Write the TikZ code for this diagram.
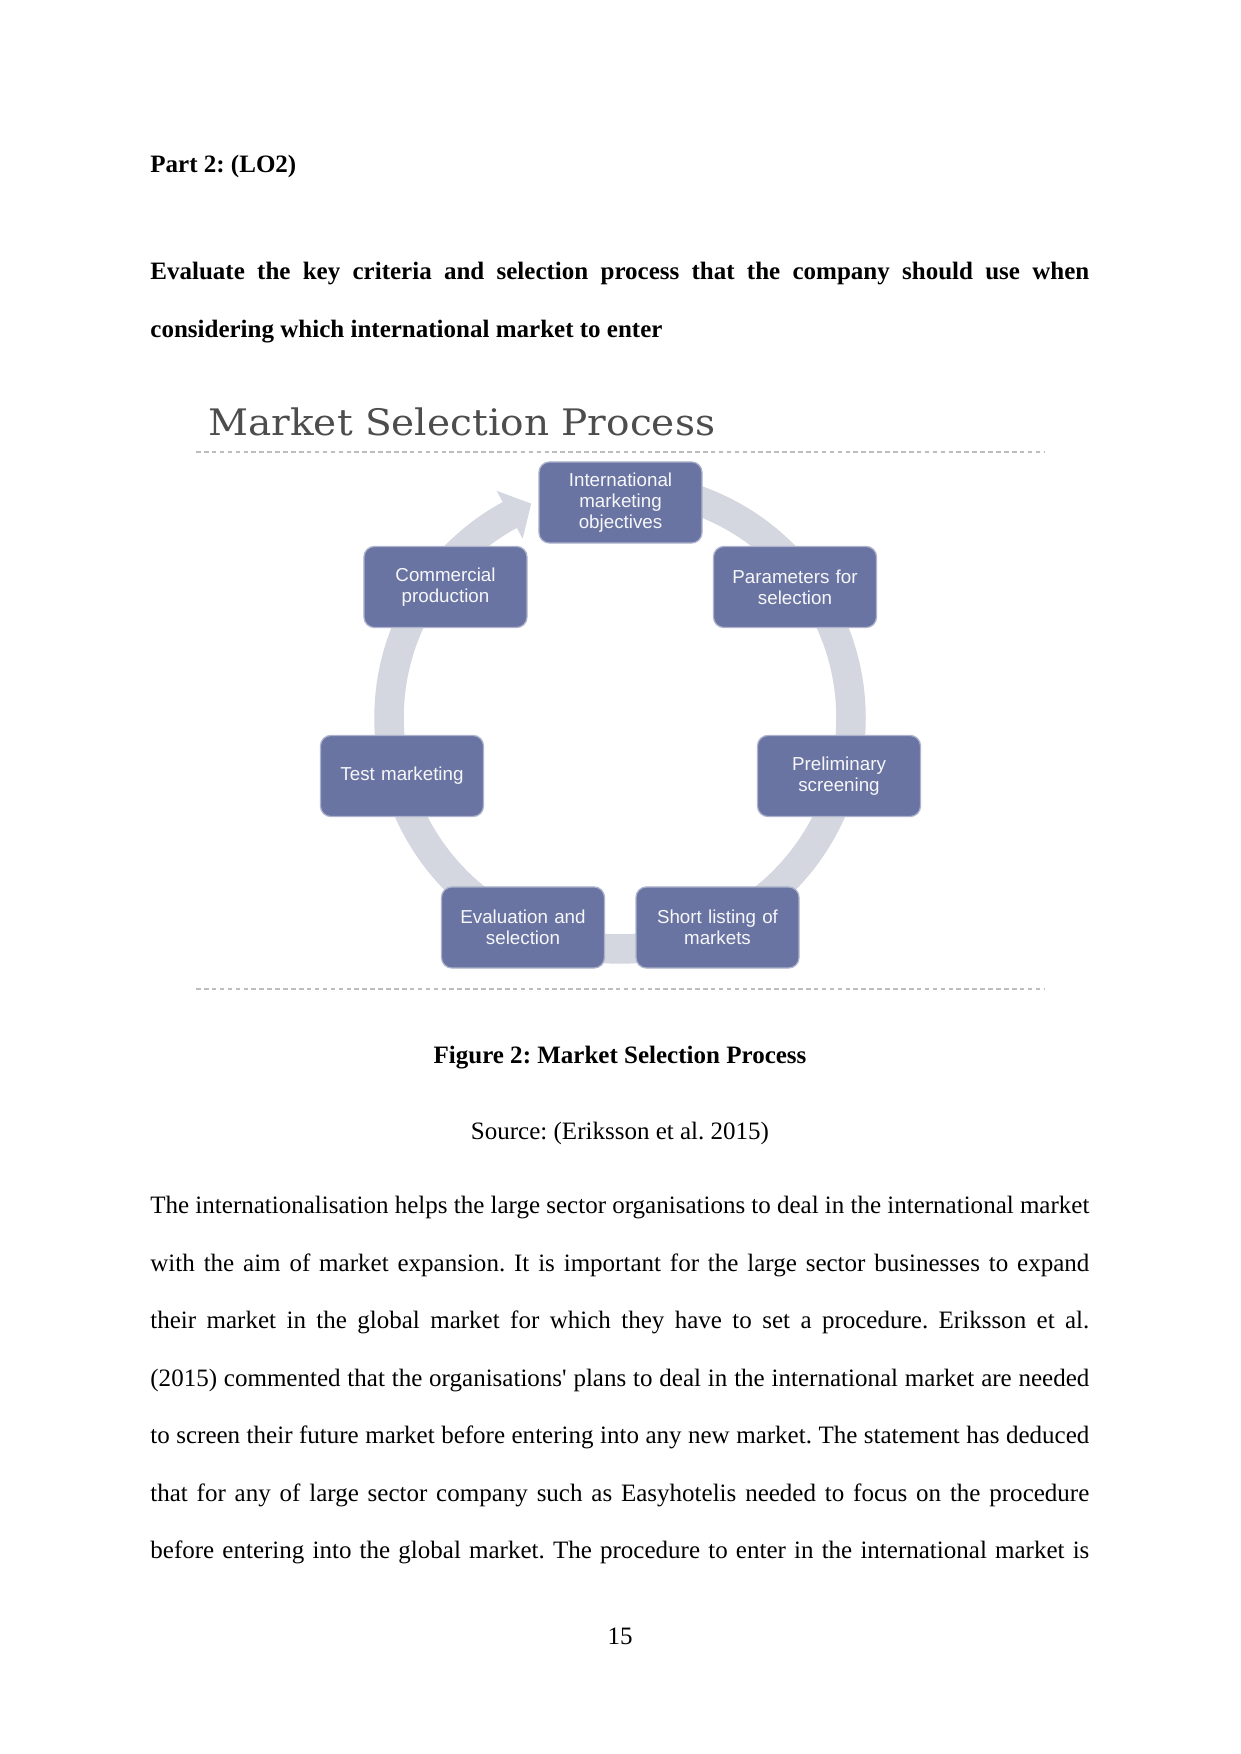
\documentclass[tikz,border=0pt]{standalone}
\usepackage{fontspec}
\setmainfont{Liberation Serif}
\newfontfamily\boxfont{Liberation Sans}
\newfontfamily\titlefont{DejaVu Serif}
\usetikzlibrary{calc}
\definecolor{boxblue}{HTML}{6A74A2}
\definecolor{ringgray}{HTML}{D4D7DF}
\definecolor{titlegray}{HTML}{4D4D4D}
\definecolor{dashgray}{HTML}{BDBDBD}
\newcommand{\straightquote}{{\addfontfeature{Ligatures=TeXOff}'}}
\begin{document}
\frenchspacing
\begin{tikzpicture}[x=0.4797pt,y=0.4797pt,
  stepbox/.style={rectangle, rounded corners=5pt, fill=boxblue, draw=boxblue!55!white,
    line width=0.6pt, minimum width=78.2pt, minimum height=38.9pt, text width=74pt,
    align=center, inner sep=0pt, text=white!94!boxblue,
    font=\boxfont\fontsize{9}{10.2}\selectfont},
  bodyline/.style={anchor=base west, inner sep=0pt, font=\fontsize{12}{14}\selectfont\frenchspacing},
  boldline/.style={anchor=base west, inner sep=0pt, font=\bfseries\fontsize{12}{14}\selectfont\frenchspacing},
  centerline/.style={anchor=base, inner sep=0pt, font=\fontsize{12}{14}\selectfont\frenchspacing},
  dashrule/.style={dashgray, line width=0.7pt, dash pattern=on 2.2pt off 1.6pt}]
\fill[white] (0,0) rectangle (1241,1754);
\useasboundingbox (0,0) rectangle (1241,1754);

% headings
\node[boldline] (part) at (150,1581) {Part 2: (LO2)};
\node[boldline] (q1) at (150,1474) {\makebox[450.4pt][s]{Evaluate the key criteria and selection process that the company should use when}};
\node[boldline] (q2) at (150,1416.5) {considering which international market to enter};

% diagram
\node[anchor=base west, inner sep=0pt, text=titlegray, font=\titlefont\fontsize{17.5}{20}\selectfont] (title) at (208,1318) {\scalebox{1.07}[1]{Market Selection Process}};
\coordinate (d1a) at (196,1302);
\coordinate (d1b) at (1044,1302);
\coordinate (d2a) at (196,765);
\coordinate (d2b) at (1044,765);
\draw[dashrule] (d1a) -- (d1b);
\draw[dashrule] (d2a) -- (d2b);

\coordinate (C) at (620,1036);
\draw[ringgray, line width=14.15pt] ($(C)+(90:110.81pt)$) arc[start angle=90, end angle=-242, radius=110.81pt];
\fill[ringgray] ($(C)+(118.5:124.0pt)$) -- ($(C)+(112.5:111.3pt)$) -- ($(C)+(118.5:97.9pt)$) -- cycle;

\node[stepbox] (imo) at (620.5,1251.5) {International\\marketing\\objectives};
\node[stepbox] (pfs) at (795,1167) {Parameters for\\selection};
\node[stepbox] (ps)  at (839,978) {Preliminary\\screening};
\node[stepbox] (slm) at (717.5,826.5) {Short listing of\\markets};
\node[stepbox] (eas) at (523,826.5) {Evaluation and\\selection};
\node[stepbox] (tm)  at (402,978) {Test marketing};
\node[stepbox] (cp)  at (445.5,1167) {Commercial\\production};

% caption
\node[centerline, font=\bfseries\fontsize{12}{14}\selectfont\frenchspacing] (cap) at (620,690) {Figure 2: Market Selection Process};
\node[centerline] (src) at (620,614) {Source: (Eriksson et al. 2015)};

% body
\node[bodyline] (b1) at (150,540) {\makebox[450.4pt][s]{The internationalisation helps the large sector organisations to deal in the international market}};
\node[bodyline] (b2) at (150,482.5) {\makebox[450.4pt][s]{with the aim of market expansion. It is important for the large sector businesses to expand}};
\node[bodyline] (b3) at (150,425) {\makebox[450.4pt][s]{their market in the global market for which they have to set a procedure. Eriksson et al.}};
\node[bodyline] (b4) at (150,367.5) {\makebox[450.4pt][s]{(2015) commented that the organisations\straightquote{} plans to deal in the international market are needed}};
\node[bodyline] (b5) at (150,310) {\makebox[450.4pt][s]{to screen their future market before entering into any new market. The statement has deduced}};
\node[bodyline] (b6) at (150,252.5) {\makebox[450.4pt][s]{that for any of large sector company such as Easyhotelis needed to focus on the procedure}};
\node[bodyline] (b7) at (150,195) {\makebox[450.4pt][s]{before entering into the global market. The procedure to enter in the international market is}};

\node[centerline] (pg) at (620,109) {15};
\end{tikzpicture}
\end{document}
